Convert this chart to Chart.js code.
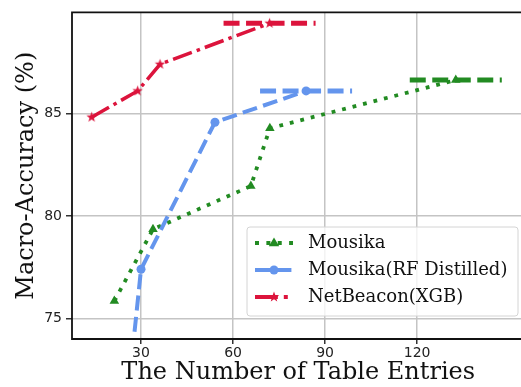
<!DOCTYPE html>
<html>
<head>
<meta charset="utf-8">
<script src="https://cdn.jsdelivr.net/npm/chart.js@4.4.1/dist/chart.umd.min.js"></script>
<style>
  html, body { margin: 0; padding: 0; background: #fff; overflow: hidden; }
  #wrap { width: 530px; height: 387px; }
</style>
</head>
<body>
<div id="wrap"><canvas id="c" width="530" height="387"></canvas></div>
<script>
// Number of table entries vs. macro-accuracy for each model
const mousikaEntries = [21.3, 33.9, 65.8, 72.0, 132.6];
const mousikaAcc     = [75.85, 79.35, 81.46, 84.28, 86.63];

const rfEntries = [25.0, 30.0, 54.1, 83.8];
const rfAcc     = [70.2, 77.4, 84.57, 86.1];

const netbeaconEntries = [13.9, 28.9, 36.2, 71.9];
const netbeaconAcc     = [84.82, 86.1, 87.4, 89.4];

// Half-width (in table entries) of the best-accuracy reference segment
const bestSpan = 15;

const xTicks = [30, 60, 90, 120];
const yTicks = [75, 80, 85];

const labels = ['Mousika', 'Mousika(RF Distilled)', 'NetBeacon(XGB)'];

const GREEN = '#228B22', BLUE = '#6495ED', RED = '#DC143C';

function pts(xs, ys) { return xs.map((x, i) => ({ x: x, y: ys[i] })); }
function bestLine(xs, ys) {
  const i = ys.indexOf(Math.max(...ys));
  return [{ x: xs[i] - bestSpan, y: ys[i] }, { x: xs[i] + bestSpan, y: ys[i] }];
}

// Filled five-pointed star marker
function starCanvas(r, color) {
  const s = Math.ceil(r * 2 + 2);
  const cv = document.createElement('canvas');
  cv.width = s; cv.height = s;
  const g = cv.getContext('2d');
  drawStar(g, s / 2, s / 2, r, color);
  return cv;
}
function drawStar(g, cx, cy, r, color) {
  g.beginPath();
  for (let k = 0; k < 10; k++) {
    const rr = k % 2 === 0 ? r : r * 0.42;
    const a = -Math.PI / 2 + k * Math.PI / 5;
    const px = cx + rr * Math.cos(a), py = cy + rr * Math.sin(a);
    if (k === 0) g.moveTo(px, py); else g.lineTo(px, py);
  }
  g.closePath();
  g.fillStyle = color;
  g.fill();
}
const starImg = starCanvas(5.5, RED);

const styles = [
  { color: GREEN, dash: [3.8, 7], width: 3.8, marker: 'triangle', radius: 5.5 },
  { color: BLUE, dash: [15, 6.4], width: 4, marker: 'circle', radius: 4.5 },
  { color: RED, dash: [20, 5.2, 3.5, 5.2], width: 3.5, marker: 'star', radius: 5.5 }
];

function seriesDataset(data, st, order) {
  return {
    data: data,
    borderColor: st.color,
    backgroundColor: st.color,
    borderWidth: st.width,
    borderDash: st.dash,
    borderCapStyle: 'butt',
    pointStyle: st.marker === 'star' ? starImg : st.marker,
    pointRadius: st.radius,
    pointBorderWidth: 0,
    pointBackgroundColor: st.color,
    tension: 0,
    fill: false,
    clip: 0,
    order: order
  };
}
function bestDataset(data, color, order) {
  return {
    data: data,
    borderColor: color,
    borderWidth: 5,
    borderDash: [16, 6.5],
    borderCapStyle: 'butt',
    pointRadius: 0,
    fill: false,
    clip: 0,
    order: order
  };
}

const frame = {
  id: 'frame',
  afterDatasetsDraw(chart) {
    const { ctx, chartArea: a } = chart;
    ctx.save();
    ctx.strokeStyle = '#111';
    ctx.lineWidth = 1.8;
    ctx.beginPath();
    ctx.moveTo(a.right + 2, a.top);
    ctx.lineTo(a.left, a.top);
    ctx.lineTo(a.left, a.bottom);
    ctx.lineTo(a.right + 2, a.bottom);
    ctx.stroke();
    ctx.restore();
  }
};

const legendBox = {
  id: 'legendBox',
  afterDraw(chart) {
    const ctx = chart.ctx;
    const bx = 247, by = 227, bw = 271, bh = 89;
    ctx.save();
    ctx.beginPath();
    ctx.roundRect(bx, by, bw, bh, 3);
    ctx.fillStyle = 'rgba(255,255,255,0.8)';
    ctx.fill();
    ctx.strokeStyle = '#d4d4d4';
    ctx.lineWidth = 1;
    ctx.stroke();

    const rowY = [243, 270, 297];
    const hx0 = 255, hx1 = 293;
    styles.forEach((st, i) => {
      const y = rowY[i];
      ctx.save();
      ctx.strokeStyle = st.color;
      ctx.lineWidth = 4;
      ctx.lineCap = 'butt';
      ctx.setLineDash(st.dash.map(v => v * 4 / st.width));
      ctx.beginPath();
      ctx.moveTo(hx0, y);
      ctx.lineTo(hx1, y);
      ctx.stroke();
      ctx.restore();
      const cx = (hx0 + hx1) / 2;
      ctx.fillStyle = st.color;
      if (st.marker === 'circle') {
        ctx.beginPath(); ctx.arc(cx, y, st.radius, 0, Math.PI * 2); ctx.fill();
      } else if (st.marker === 'triangle') {
        const r = st.radius;
        ctx.beginPath();
        ctx.moveTo(cx, y - r);
        ctx.lineTo(cx + r * 0.95, y + r * 0.6);
        ctx.lineTo(cx - r * 0.95, y + r * 0.6);
        ctx.closePath(); ctx.fill();
      } else {
        drawStar(ctx, cx, y, st.radius, st.color);
      }
      ctx.fillStyle = '#111';
      ctx.font = '18px "DejaVu Serif"';
      ctx.textBaseline = 'middle';
      ctx.textAlign = 'left';
      ctx.fillText(labels[i], 308, y);
    });
    ctx.restore();
  }
};

new Chart(document.getElementById('c'), {
  type: 'line',
  data: {
    datasets: [
      seriesDataset(pts(netbeaconEntries, netbeaconAcc), styles[2], 1),
      bestDataset(bestLine(netbeaconEntries, netbeaconAcc), RED, 0),
      seriesDataset(pts(rfEntries, rfAcc), styles[1], 3),
      bestDataset(bestLine(rfEntries, rfAcc), BLUE, 2),
      seriesDataset(pts(mousikaEntries, mousikaAcc), styles[0], 5),
      bestDataset(bestLine(mousikaEntries, mousikaAcc), GREEN, 4)
    ]
  },
  options: {
    responsive: false,
    devicePixelRatio: 1,
    animation: false,
    layout: { padding: { top: 6, right: 0, left: 0, bottom: 0 } },
    plugins: { legend: { display: false }, tooltip: { enabled: false } },
    scales: {
      x: {
        type: 'linear',
        min: 7.5,
        max: 155,
        afterBuildTicks(s) { s.ticks = xTicks.map(v => ({ value: v })); },
        afterFit(s) { s.height = 48; },
        border: { display: false },
        grid: { color: '#c4c4c4', lineWidth: 1.5, drawTicks: true, tickLength: 5, tickColor: '#333', tickWidth: 1.5 },
        ticks: { color: '#222', font: { family: 'DejaVu Sans', size: 14 }, padding: 1, maxRotation: 0 },
        title: {
          display: true,
          text: 'The Number of Table Entries',
          color: '#111',
          font: { family: 'DejaVu Serif', size: 24, lineHeight: 1.2 },
          padding: { top: 0, bottom: 0 }
        }
      },
      y: {
        type: 'linear',
        min: 74,
        max: 89.93,
        afterBuildTicks(s) { s.ticks = yTicks.map(v => ({ value: v })); },
        afterFit(s) { s.width = 72; },
        border: { display: false },
        grid: { color: '#c4c4c4', lineWidth: 1.5, drawTicks: true, tickLength: 6, tickColor: '#333', tickWidth: 1.5 },
        ticks: { color: '#222', font: { family: 'DejaVu Sans', size: 14 }, padding: 4 },
        title: {
          display: true,
          text: 'Macro-Accuracy (%)',
          color: '#111',
          font: { family: 'DejaVu Serif', size: 24, lineHeight: 1.2 },
          padding: { top: 12.5, bottom: 0 }
        }
      }
    }
  },
  plugins: [frame, legendBox]
});
</script>
</body>
</html>
